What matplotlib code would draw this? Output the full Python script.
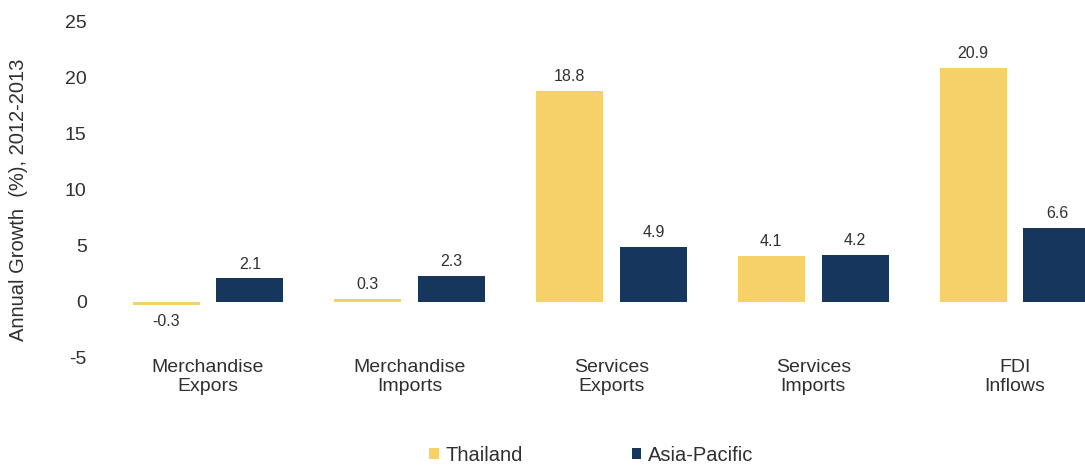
import numpy as np
import matplotlib
matplotlib.use('Agg')
import matplotlib.pyplot as plt

categories = ['Merchandise\nExpors', 'Merchandise\nImports', 'Services\nExports',
              'Services\nImports', 'FDI\nInflows']
thailand = [-0.3, 0.3, 18.8, 4.1, 20.9]
asia_pacific = [2.1, 2.3, 4.9, 4.2, 6.6]

plt.rcParams['font.family'] = ['Liberation Sans', 'DejaVu Sans']
plt.rcParams['axes.unicode_minus'] = False

fig = plt.figure(figsize=(10.85, 4.70), dpi=100)
ax = fig.add_axes([0.0876, 0.2383, 0.9124, 0.715])

x = np.arange(len(categories))
w = 0.332
off = 0.208
c_th = '#F5D168'
c_ap = '#17365D'
txt = '#303030'

b1 = ax.bar(x - off, thailand, w, color=c_th, label='Thailand')
b2 = ax.bar(x + off, asia_pacific, w, color=c_ap, label='Asia-Pacific')

# value labels above (or below, for negatives) each bar
for bars, vals in ((b1, thailand), (b2, asia_pacific)):
    for b, v in zip(bars, vals):
        if v >= 0:
            ax.annotate(f'{v}', (b.get_x() + b.get_width() / 2, v), xytext=(0, 5),
                        textcoords='offset points', ha='center', va='bottom',
                        fontsize=11.5, color=txt)
        else:
            ax.annotate(f'{v}', (b.get_x() + b.get_width() / 2, v), xytext=(0, -6),
                        textcoords='offset points', ha='center', va='top',
                        fontsize=11.5, color=txt)

ax.set_xlim(-0.56, 4.347)
ax.set_ylim(-5, 25)
ax.set_yticks(range(-5, 30, 5))
ax.set_xticks(x)
ax.set_xticklabels(categories, fontsize=14, color=txt, linespacing=1.15)
ax.tick_params(axis='y', labelsize=14, colors=txt, length=0, pad=6)
ax.tick_params(axis='x', length=0, pad=1)
for s in ax.spines.values():
    s.set_visible(False)

ax.set_ylabel('Annual Growth  (%), 2012-2013', fontsize=14.5, color=txt)
ax.yaxis.set_label_coords(-0.068, 0.47)

leg = fig.legend(handles=[b1, b2], labels=['Thailand', 'Asia-Pacific'], loc='lower center',
                 bbox_to_anchor=(0.545, -0.028), ncol=2, frameon=False, fontsize=14.5,
                 handlelength=0.45, handleheight=0.45, handletextpad=0.35, columnspacing=5.4)
for t in leg.get_texts():
    t.set_color(txt)

fig.savefig('out.png', dpi=100)
